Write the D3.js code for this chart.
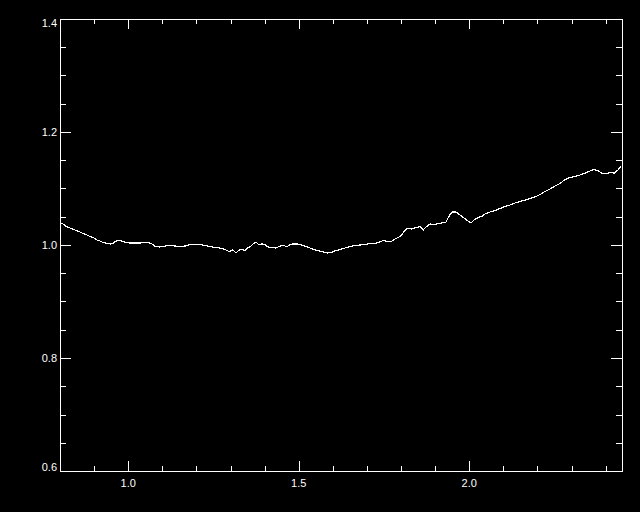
<!DOCTYPE html>
<html>
<head>
<meta charset="utf-8">
<script src="https://cdn.jsdelivr.net/npm/d3@7"></script>
<style>
  html, body { margin: 0; padding: 0; background: #000; }
  svg { display: block; }
  text { font-family: "Liberation Sans", Arial, sans-serif; font-size: 11px; fill: #fff; }
</style>
</head>
<body>
<script>
// ---- data ----
const xValues = [0.800,0.809,0.818,0.829,0.844,0.859,0.867,0.879,0.888,0.900,0.909,0.917,0.926,0.938,0.947,0.955,0.964,0.976,0.985,0.994,
1.005,1.020,1.035,1.043,1.058,1.070,1.079,1.093,1.108,1.123,1.137,1.152,1.167,1.181,1.196,1.211,1.225,1.240,1.255,1.269,
1.284,1.296,1.307,1.316,1.325,1.334,1.343,1.351,1.357,1.366,1.375,1.384,1.392,1.401,1.410,1.422,1.433,1.445,1.454,1.466,
1.474,1.483,1.495,1.504,1.518,1.533,1.548,1.562,1.574,1.583,1.595,1.606,1.621,1.636,1.650,1.665,1.680,1.694,1.709,1.724,
1.738,1.747,1.759,1.771,1.782,1.797,1.806,1.815,1.823,1.832,1.844,1.856,1.865,1.873,1.885,1.897,1.909,1.920,1.932,1.941,
1.950,1.961,1.973,1.985,1.996,2.005,2.014,2.026,2.038,2.049,2.061,2.076,2.090,2.105,2.120,2.134,2.149,2.164,2.178,2.193,
2.208,2.222,2.237,2.252,2.266,2.281,2.296,2.310,2.325,2.340,2.354,2.366,2.378,2.389,2.401,2.413,2.425,2.436,2.445];
const yValues = [1.0389,1.0372,1.0327,1.0301,1.0265,1.0230,1.0204,1.0177,1.0150,1.0124,1.0088,1.0071,1.0044,1.0027,1.0018,1.0027,1.0071,1.0080,1.0062,1.0044,
1.0035,1.0035,1.0035,1.0044,1.0044,1.0018,0.9973,0.9965,0.9982,0.9991,0.9982,0.9973,0.9982,1.0009,1.0009,1.0009,0.9991,0.9973,0.9956,0.9947,
0.9920,0.9885,0.9912,0.9858,0.9912,0.9920,0.9903,0.9956,0.9965,1.0018,1.0053,1.0000,1.0018,1.0009,0.9965,0.9956,0.9947,0.9982,0.9991,0.9973,
1.0000,1.0018,1.0018,1.0009,0.9982,0.9947,0.9912,0.9894,0.9876,0.9858,0.9867,0.9894,0.9920,0.9947,0.9973,0.9991,1.0000,1.0009,1.0027,1.0027,
1.0053,1.0080,1.0062,1.0062,1.0106,1.0150,1.0212,1.0283,1.0292,1.0283,1.0310,1.0327,1.0265,1.0319,1.0372,1.0354,1.0381,1.0389,1.0407,1.0513,
1.0584,1.0584,1.0531,1.0478,1.0425,1.0389,1.0442,1.0487,1.0513,1.0558,1.0584,1.0611,1.0646,1.0681,1.0708,1.0743,1.0770,1.0796,1.0823,1.0850,
1.0894,1.0947,1.0991,1.1044,1.1088,1.1159,1.1195,1.1212,1.1239,1.1274,1.1310,1.1336,1.1310,1.1274,1.1257,1.1283,1.1274,1.1327,1.1398];

const xDomain = [0.8, 2.448];
const yDomain = [0.6, 1.4];
const xMajorTicks = [1.0, 1.5, 2.0];
const xTickLabels = ["1.0", "1.5", "2.0"];
const xMinorTicks = [0.9,1.1,1.2,1.3,1.4,1.6,1.7,1.8,1.9,2.1,2.2,2.3,2.4];
const yMajorTicks = [0.6, 0.8, 1.0, 1.2, 1.4];
const yTickLabels = ["0.6", "0.8", "1.0", "1.2", "1.4"];
const yMinorTicks = [0.65,0.7,0.75,0.85,0.9,0.95,1.05,1.1,1.15,1.25,1.3,1.35];

// ---- layout ----
const W = 640, H = 512;
const L = 60, R = 622, T = 19, B = 471;

const svg = d3.select("body").append("svg").attr("width", W).attr("height", H);
svg.append("rect").attr("width", W).attr("height", H).attr("fill", "#000");

const x = d3.scaleLinear().domain(xDomain).range([L, R]);
const y = d3.scaleLinear().domain(yDomain).range([B, T]);

const g = svg.append("g").attr("stroke", "#fff").attr("stroke-width", 1).attr("shape-rendering", "crispEdges");

// frame
g.append("rect").attr("x", L + 0.5).attr("y", T + 0.5).attr("width", R - L).attr("height", B - T).attr("fill", "none");

const xMajLen = 10, xMinLen = 5, yMajLen = 11, yMinLen = 6;
function xt(vals, len) {
  vals.forEach(v => {
    const px = Math.round(x(v)) + 0.5;
    g.append("line").attr("x1", px).attr("x2", px).attr("y1", B).attr("y2", B - len);
    g.append("line").attr("x1", px).attr("x2", px).attr("y1", T).attr("y2", T + len);
  });
}
function yt(vals, len) {
  vals.forEach(v => {
    const py = Math.round(y(v)) + 0.5;
    g.append("line").attr("x1", L).attr("x2", L + len).attr("y1", py).attr("y2", py);
    g.append("line").attr("x1", R).attr("x2", R - len).attr("y1", py).attr("y2", py);
  });
}
xt(xMajorTicks, xMajLen); xt(xMinorTicks, xMinLen);
yt(yMajorTicks, yMajLen); yt(yMinorTicks, yMinLen);

// labels
xMajorTicks.forEach((v, i) => {
  svg.append("text").attr("x", x(v)).attr("y", 487).attr("text-anchor", "middle").text(xTickLabels[i]);
});
yMajorTicks.forEach((v, i) => {
  let yy = y(v) + 4;
  if (i === 0) yy = y(v);
  if (i === yMajorTicks.length - 1) yy = y(v) + 8;
  svg.append("text").attr("x", 57).attr("y", yy).attr("text-anchor", "end").text(yTickLabels[i]);
});

// line
const pts = xValues.map((v, i) => [v, yValues[i]]);
svg.append("path")
  .datum(pts)
  .attr("fill", "none")
  .attr("stroke", "#fff")
  .attr("stroke-width", 1.2)
  .attr("shape-rendering", "crispEdges")
  .attr("d", d3.line().x(d => x(d[0])).y(d => y(d[1])));
</script>
</body>
</html>
